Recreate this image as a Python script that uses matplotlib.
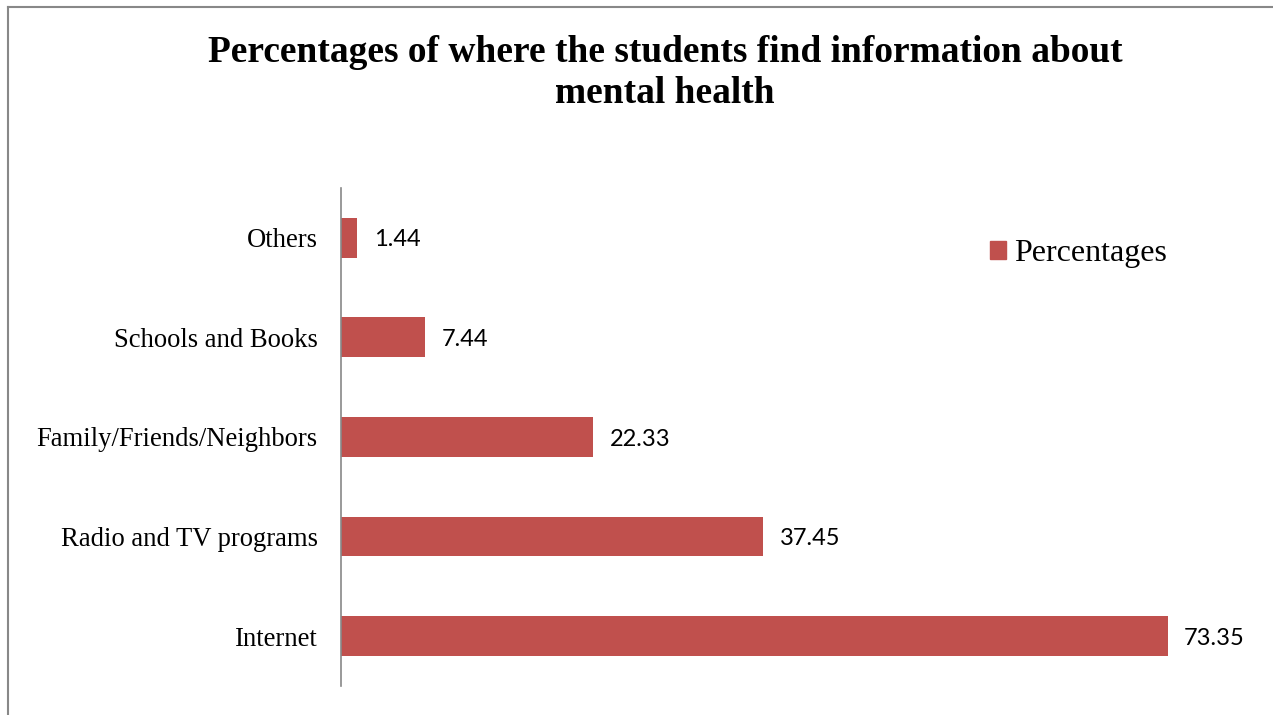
import numpy as np
import matplotlib
matplotlib.use('Agg')
import matplotlib.pyplot as plt
from matplotlib.lines import Line2D
from matplotlib.patches import Patch

sources = ['Internet', 'Radio and TV programs', 'Family/Friends/Neighbors',
           'Schools and Books', 'Others']
percentages = [73.35, 37.45, 22.33, 7.44, 1.44]
series_name = 'Percentages'
title = 'Percentages of where the students find information about\nmental health'

barColor = '#C0504D'
lineColor = '#888888'

fig = plt.figure(figsize=[12.73, 7.15], dpi=100)
ax = fig.add_axes([0.268, 0.0406, 0.708, 0.6965])

y = np.arange(len(sources))
bars = ax.barh(y, percentages, height=0.4, color=barColor)
ax.set_xlim(0, 80)
ax.set_ylim(-0.5, len(sources) - 0.5)

ax.set_yticks(y)
ax.set_yticklabels(sources, family='Liberation Serif', fontsize=19.2)
ax.tick_params(axis='y', length=0, pad=17)
ax.set_xticks([])
for side in ['top', 'right', 'bottom']:
    ax.spines[side].set_visible(False)
ax.spines['left'].set_color(lineColor)
ax.spines['left'].set_linewidth(1.2)

# value labels next to each bar
for yi, val in zip(y, percentages):
    ax.annotate('%.2f' % val, xy=(val, yi), xytext=(12, -1.5), textcoords='offset points',
                va='center', ha='left', family='Lato', fontsize=17)

fig.text(0.5225, 0.898, title, ha='center', va='center', family='Liberation Serif',
         fontsize=26.9, fontweight='bold', linespacing=1.25)

leg = fig.legend(handles=[Patch(color=barColor, label=series_name)],
                 loc='center left', bbox_to_anchor=(0.755, 0.645), frameon=False,
                 prop={'family': 'Liberation Serif', 'size': 23},
                 handlelength=0.5, handleheight=0.5, handletextpad=0.25)

# outer frame lines (left and top)
fig.add_artist(Line2D([8 / 1273, 8 / 1273], [0, 1 - 7 / 715], color=lineColor, lw=1.5))
fig.add_artist(Line2D([8 / 1273, 1], [1 - 7 / 715, 1 - 7 / 715], color=lineColor, lw=1.5))

plt.savefig('out.png', dpi=100)
